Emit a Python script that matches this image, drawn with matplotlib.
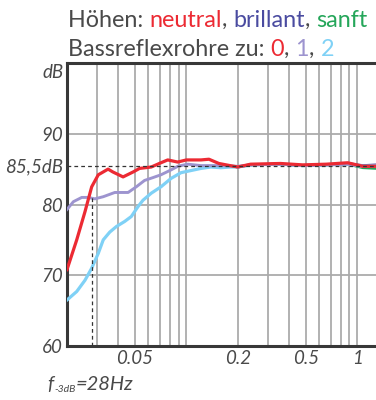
import numpy as np
import matplotlib
matplotlib.use("Agg")
import matplotlib.pyplot as plt

plt.rcParams['font.family'] = ['Lato', 'DejaVu Sans']

# frequency in kHz, level in dB
f_red = [0.020, 0.0228, 0.0255, 0.0279, 0.0305, 0.0348, 0.0371, 0.0426, 0.0488, 0.0532,
         0.0623, 0.0710, 0.0778, 0.0889, 0.100, 0.1218, 0.1356, 0.155, 0.18, 0.20,
         0.238, 0.356, 0.48, 0.66, 0.88, 1.08, 1.29]
db_red = [70.8, 75.0, 79.0, 82.5, 84.2, 85.0, 84.6, 83.9, 84.6, 85.1,
          85.3, 85.9, 86.3, 86.0, 86.3, 86.3, 86.4, 85.8, 85.5, 85.3,
          85.7, 85.8, 85.6, 85.7, 85.9, 85.4, 85.4]

f_purple = [0.020, 0.0218, 0.0244, 0.0266, 0.0291, 0.0326, 0.0381, 0.0456, 0.0509,
            0.0569, 0.0637, 0.071, 0.0815, 0.0891, 0.1019, 0.1218, 0.159, 0.20,
            0.238, 0.356, 0.48, 0.66, 0.88, 1.08, 1.29]
db_purple = [79.3, 80.4, 81.0, 81.0, 80.8, 81.1, 81.7, 81.7, 82.5,
             83.4, 83.8, 84.2, 84.9, 85.4, 85.7, 85.5, 85.5, 85.4,
             85.6, 85.7, 85.5, 85.6, 85.7, 85.4, 85.5]

f_blue = [0.020, 0.0228, 0.0255, 0.0279, 0.0305, 0.0326, 0.0356, 0.0390, 0.0435,
          0.0476, 0.0521, 0.0557, 0.0623, 0.071, 0.0815, 0.0931, 0.1065, 0.1218,
          0.139, 0.159, 0.182, 0.20, 0.238, 0.356, 0.48, 0.66, 0.88, 1.08, 1.29]
db_blue = [66.5, 67.7, 69.3, 71.0, 73.1, 75.0, 76.1, 76.9, 77.6,
           78.3, 79.7, 80.6, 81.6, 82.5, 83.7, 84.5, 84.8, 85.1,
           85.3, 85.2, 85.3, 85.3, 85.6, 85.7, 85.5, 85.6, 85.7, 85.4, 85.4]

# high-frequency variants (only the start is visible)
f_hf = [0.20, 0.238, 0.356, 0.48, 0.66, 0.88, 1.08, 1.29]
db_brillant = [85.3, 85.6, 85.7, 85.5, 85.6, 85.8, 85.5, 85.6]
db_sanft = [85.3, 85.6, 85.7, 85.5, 85.6, 85.7, 85.2, 85.1]

f_3db = 0.028
ref_db = 85.5

xticks = [0.05, 0.2, 0.5, 1]
xtick_labels = ['0.05', '0.2', '0.5', '1']
yticks = [60, 70, 80, ref_db, 90]
ytick_labels = ['60', '70', '80', '85,5dB', '90']
xgrid = [0.03, 0.04, 0.05, 0.06, 0.07, 0.08, 0.09, 0.1,
         0.2, 0.3, 0.4, 0.5, 0.6, 0.7, 0.8, 0.9, 1.0]

RED = '#ec2a33'
PURPLE = '#9d94cf'
LBLUE = '#7fd1f6'
DBLUE = '#4a4ba0'
GREEN = '#25a65a'
GRAY = '#4a4a4a'

fig = plt.figure(figsize=(3.76, 4.0), dpi=100)
ax = fig.add_axes([67/376, 54/400, 1 - 67/376, 283/400])
ax.set_xscale('log')
ax.set_xlim(0.02, 1.29)
ax.set_ylim(60, 100)

for g in xgrid:
    ax.axvline(g, color='#ababab', lw=1.3, zorder=1)
for g in [70, 80, 90]:
    ax.axhline(g, color='#ababab', lw=1.3, zorder=1)

ax.plot(f_hf, db_sanft, color=GREEN, lw=2.0, zorder=2)
ax.plot(f_hf, db_brillant, color=DBLUE, lw=2.0, zorder=2)
ax.plot(f_blue, db_blue, color=LBLUE, lw=2.3, zorder=3, solid_joinstyle='round')
ax.plot(f_purple, db_purple, color=PURPLE, lw=2.1, zorder=3, solid_joinstyle='round')
ax.plot(f_red, db_red, color=RED, lw=2.3, zorder=4, solid_joinstyle='round')

ax.axhline(ref_db, color='#333333', lw=0.9, ls=(0, (3, 2.5)), zorder=5)
ax.plot([f_3db, f_3db], [60, 81], color='#333333', lw=0.9, ls=(0, (3, 2.5)), zorder=5)

ax.minorticks_off()
ax.set_xticks(xticks)
ax.set_xticklabels(xtick_labels)
ax.set_yticks(yticks)
ax.set_yticklabels(ytick_labels)
ax.tick_params(length=0, labelsize=13.5, labelcolor=GRAY, pad=3)
for lab in ax.get_xticklabels() + ax.get_yticklabels():
    lab.set_style('italic')
for s in ['left', 'bottom', 'top']:
    ax.spines[s].set_linewidth(2.2)
    ax.spines[s].set_color('#383838')
ax.spines['right'].set_visible(False)

ax.text(-0.012, 0.965, 'dB', transform=ax.transAxes, ha='right', va='center',
        fontsize=13.5, style='italic', color=GRAY)

fig.canvas.draw()
rend = fig.canvas.get_renderer()


def put_parts(x, y, parts, **kw):
    for s, c in parts:
        t = fig.text(x, y, s, color=c, **kw)
        bb = t.get_window_extent(renderer=rend)
        x += bb.width / fig.bbox.width
    return x


put_parts(68/376, 1 - 27/400,
          [('Höhen: ', GRAY), ('neutral', RED), (', ', GRAY), ('brillant', DBLUE),
           (', ', GRAY), ('sanft', GREEN)], fontsize=16.8, va='baseline')
put_parts(68/376, 1 - 56/400,
          [('Bassreflexrohre zu: ', GRAY), ('0', RED), (', ', GRAY), ('1', PURPLE),
           (', ', GRAY), ('2', LBLUE)], fontsize=16.8, va='baseline')

x = put_parts(47/376, 1 - 390/400, [('f', GRAY)], fontsize=14, style='italic', va='baseline')
x = put_parts(x + 1/376, 1 - 392/400, [('-3dB', GRAY)], fontsize=7.5, style='italic', va='baseline')
put_parts(x, 1 - 390/400, [('=28Hz', GRAY)], fontsize=14.5, style='italic', va='baseline')

fig.savefig('out.png', dpi=100)
